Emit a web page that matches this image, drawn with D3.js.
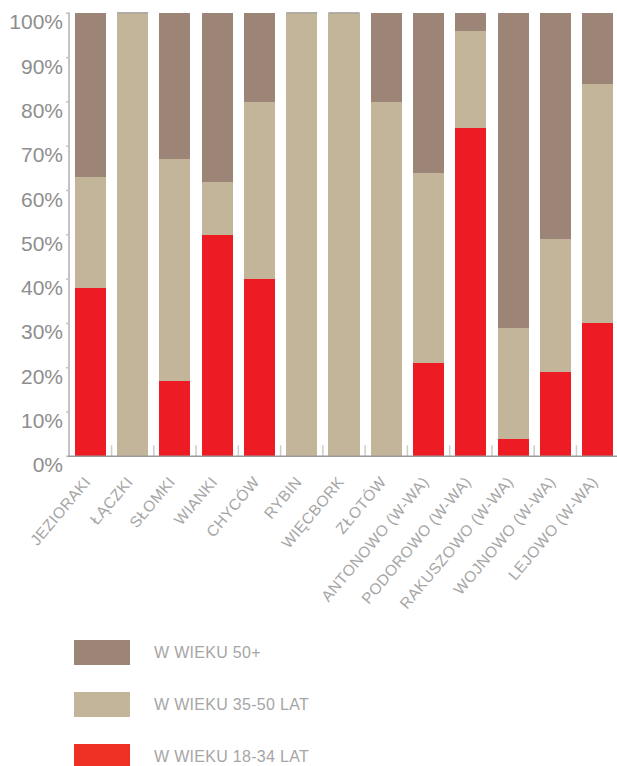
<!DOCTYPE html>
<html>
<head>
<meta charset="utf-8">
<script src="https://cdn.jsdelivr.net/npm/d3@7"></script>
<style>
  html, body { margin: 0; padding: 0; background: #fff; }
  svg { display: block; }
  text { font-family: "Liberation Sans", Arial, sans-serif; }
</style>
</head>
<body>
<svg id="chart" width="617" height="766"></svg>
<script>
// Village names along the x axis
const categories = [
  "JEZIORAKI", "ŁĄCZKI", "SŁOMKI", "WIANKI", "CHYCÓW", "RYBIN", "WIĘCBORK",
  "ZŁOTÓW", "ANTONOWO (W-WA)", "PODOROWO (W-WA)", "RAKUSZOWO (W-WA)",
  "WOJNOWO (W-WA)", "LEJOWO (W-WA)"
];

// Share of each age group, in percent
const age18to34 = [38, 0, 17, 50, 40, 0, 0, 0, 21, 74, 4, 19, 30];
const age35to50 = [25, 100, 50, 12, 40, 100, 100, 80, 43, 22, 25, 30, 54];
const age50plus = [37, 0, 33, 38, 20, 0, 0, 20, 36, 4, 71, 51, 16];

const yTicks = [0, 10, 20, 30, 40, 50, 60, 70, 80, 90, 100];

const seriesKeys = ["young", "middle", "old"];
const seriesLabels = {
  old: "W WIEKU 50+",
  middle: "W WIEKU 35-50 LAT",
  young: "W WIEKU 18-34 LAT"
};
const colors = { young: "#ED1C24", middle: "#C3B59A", old: "#9C8577" };

const rows = categories.map((c, i) => ({
  name: c, young: age18to34[i], middle: age35to50[i], old: age50plus[i]
}));

const svg = d3.select("#chart");

const x = d3.scaleBand()
  .domain(categories)
  .range([69, 619])
  .paddingInner(0.266)
  .paddingOuter(0.14);

const y = d3.scaleLinear().domain([0, 100]).range([456.3, 13.3]);

const stacked = d3.stack().keys(seriesKeys)(rows);

// Stacked bars
svg.append("g")
  .selectAll("g")
  .data(stacked)
  .join("g")
  .attr("fill", d => colors[d.key])
  .selectAll("rect")
  .data(d => d)
  .join("rect")
  .attr("x", d => x(d.data.name))
  .attr("y", d => y(d[1]))
  .attr("width", x.bandwidth())
  .attr("height", d => y(d[0]) - y(d[1]))
  .attr("shape-rendering", "crispEdges");

// Thin cap on bars that are entirely the middle group
svg.append("g")
  .selectAll("line")
  .data(rows.filter(r => r.middle === 100))
  .join("line")
  .attr("x1", d => x(d.name))
  .attr("x2", d => x(d.name) + x.bandwidth())
  .attr("y1", y(100) - 0.5)
  .attr("y2", y(100) - 0.5)
  .attr("stroke", "#8a8a8a")
  .attr("stroke-width", 1);

// Y axis
const yAxis = svg.append("g").attr("transform", "translate(69,0)");
yAxis.append("line")
  .attr("x1", 0).attr("x2", 0)
  .attr("y1", y(100) - 1).attr("y2", y(0))
  .attr("stroke", "#c4c4c4").attr("stroke-width", 2);
yAxis.selectAll("line.tick")
  .data(yTicks)
  .join("line")
  .attr("class", "tick")
  .attr("x1", -3).attr("x2", 0)
  .attr("y1", d => y(d)).attr("y2", d => y(d))
  .attr("stroke", "#c4c4c4").attr("stroke-width", 1.5);
yAxis.selectAll("text")
  .data(yTicks)
  .join("text")
  .attr("x", -6)
  .attr("y", d => y(d) + 16)
  .attr("text-anchor", "end")
  .attr("font-size", 21)
  .attr("fill", "#8e8e8e")
  .text(d => d + "%");

// X axis baseline and ticks between bars
const step = x.step();
const gapOffset = step * x.paddingInner() / 2;
svg.append("g")
  .selectAll("line")
  .data(categories.slice(1))
  .join("line")
  .attr("x1", d => x(d) - gapOffset)
  .attr("x2", d => x(d) - gapOffset)
  .attr("y1", y(0) - 11)
  .attr("y2", y(0))
  .attr("stroke", "#cccccc")
  .attr("stroke-width", 1.5);

svg.append("line")
  .attr("x1", 68).attr("x2", 617)
  .attr("y1", y(0)).attr("y2", y(0))
  .attr("stroke", "#9a9a9a").attr("stroke-width", 1.5);

// Rotated category labels
svg.append("g")
  .selectAll("text")
  .data(categories)
  .join("text")
  .attr("transform", d => `translate(${x(d) + x.bandwidth() / 2 + 1},${y(0) + 26}) rotate(-50)`)
  .attr("text-anchor", "end")
  .attr("font-size", 15.5)
  .attr("letter-spacing", 0.4)
  .attr("fill", "#a6a6a6")
  .text(d => d);

// Legend
const legendOrder = ["old", "middle", "young"];
const legend = svg.append("g")
  .selectAll("g")
  .data(legendOrder)
  .join("g")
  .attr("transform", (d, i) => `translate(74,${640 + i * 52})`);
legend.append("rect")
  .attr("width", 56).attr("height", 25)
  .attr("fill", d => d === "young" ? "#EE3124" : colors[d]);
legend.append("text")
  .attr("x", 80).attr("y", 12.5)
  .attr("dy", "0.35em")
  .attr("font-size", 16)
  .attr("letter-spacing", 0.3)
  .attr("fill", "#a6a6a6")
  .text(d => seriesLabels[d]);
</script>
</body>
</html>
